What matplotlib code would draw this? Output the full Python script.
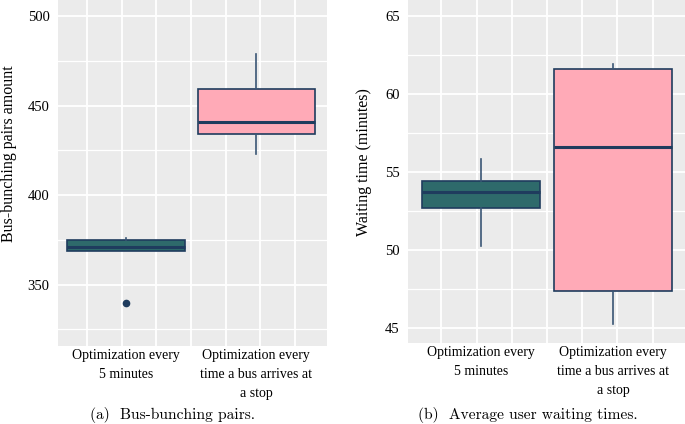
import matplotlib
matplotlib.use('Agg')
import matplotlib.pyplot as plt
import numpy as np

categories = ['Optimization every\n5 minutes', 'Optimization every\ntime a bus arrives at\na stop']

# (a) bus-bunching pairs
pairs_q1 = [369, 434]
pairs_med = [371, 441]
pairs_q3 = [375, 459]
pairs_lo = [369, 423]
pairs_hi = [376, 479]
pairs_fliers = [[340], []]

# (b) waiting times (minutes)
wait_q1 = [52.7, 47.4]
wait_med = [53.75, 56.6]
wait_q3 = [54.4, 61.6]
wait_lo = [50.3, 45.3]
wait_hi = [55.85, 61.9]
wait_fliers = [[], []]

box_colors = ['#2E6A6B', '#FFAAB7']
edge = '#1F3C5E'
serif = ['Liberation Serif', 'DejaVu Serif']

W, H = 685, 424
fig = plt.figure(figsize=(W / 100, H / 100), dpi=100)

def px_axes(left, top, right, bottom):
    return fig.add_axes([left / W, 1 - bottom / H, (right - left) / W, (bottom - top) / H])

def draw(ax, q1, med, q3, lo, hi, fliers, xlim, ylim, yticks, yminor, ylabel, lab_xy, caption, cap_x):
    stats = []
    for i in range(len(q1)):
        stats.append(dict(q1=q1[i], med=med[i], q3=q3[i], whislo=lo[i], whishi=hi[i], fliers=fliers[i]))
    b = ax.bxp(stats, positions=[1, 2], widths=0.9, patch_artist=True, showcaps=False,
               boxprops=dict(edgecolor=edge, linewidth=1.2),
               medianprops=dict(color=edge, linewidth=2.2),
               whiskerprops=dict(color='#3A5675', linewidth=1.2),
               flierprops=dict(marker='o', markerfacecolor=edge, markeredgecolor=edge, markersize=4.5))
    for patch, c in zip(b['boxes'], box_colors):
        patch.set_facecolor(c)
    ax.set_facecolor('#EBEBEB')
    for s in ax.spines.values():
        s.set_visible(False)
    ax.set_xlim(*xlim)
    ax.set_ylim(*ylim)
    ax.set_xticks(np.linspace(0.70, 2.30, 7))
    ax.set_xticklabels([])
    ax.set_xticks([1, 2], categories, minor=True)
    ax.set_yticks(yticks)
    ax.set_yticks(yminor, minor=True)
    ax.tick_params(which='both', length=0)
    ax.tick_params(axis='x', which='minor', pad=2)
    ax.tick_params(axis='y', pad=6)
    for t in ax.get_xticklabels(minor=True):
        t.set_fontfamily(serif)
        t.set_fontsize(10)
        t.set_linespacing(1.62)
    for t in ax.get_yticklabels():
        t.set_fontfamily(serif)
        t.set_fontsize(10.5)
    ax.grid(True, which='major', axis='both', color='white', linewidth=1.3)
    ax.grid(True, which='minor', axis='y', color='white', linewidth=0.9)
    ax.set_axisbelow(True)
    ax.set_ylabel(ylabel, family=serif, fontsize=11.5)
    ax.yaxis.set_label_coords(*lab_xy)
    fig.text(cap_x / W, 1 - 415 / H, caption, family='cmr10', fontsize=11.2, ha='center', va='center')

ax1 = px_axes(58, 0, 327, 346)
draw(ax1, pairs_q1, pairs_med, pairs_q3, pairs_lo, pairs_hi, pairs_fliers,
     (0.477, 2.546), (315.7, 509.0), [350, 400, 450, 500], [325, 375, 425, 475],
     'Bus-bunching pairs amount', (-0.152, 0.555), '(a)  Bus-bunching pairs.', 172)

ax2 = px_axes(408, 0, 685, 343)
draw(ax2, wait_q1, wait_med, wait_q3, wait_lo, wait_hi, wait_fliers,
     (0.447, 2.545), (44.06, 66.02), [45, 50, 55, 60, 65], [47.5, 52.5, 57.5, 62.5],
     'Waiting time (minutes)', (-0.13, 0.528), '(b)  Average user waiting times.', 528)

fig.savefig('out.png', dpi=100)
